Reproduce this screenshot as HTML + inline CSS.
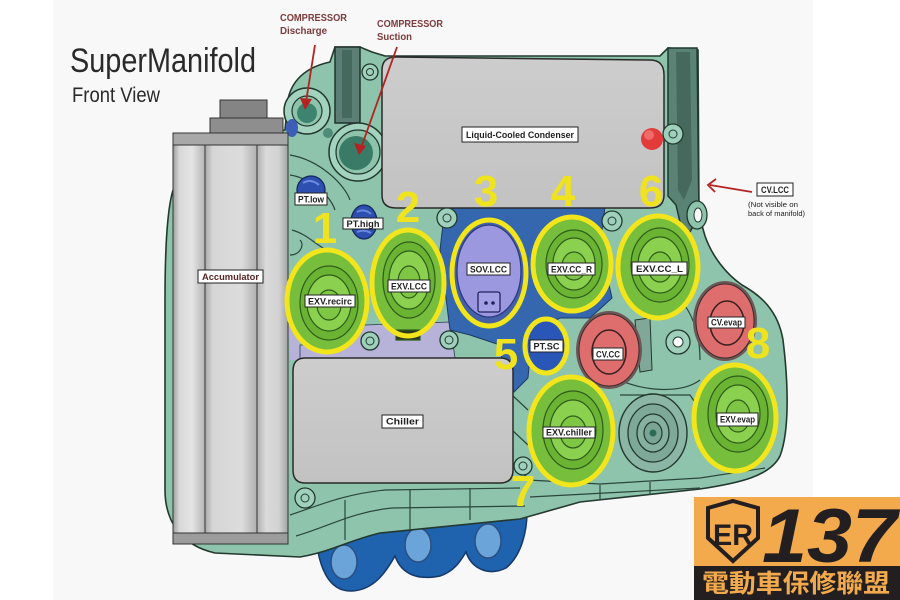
<!DOCTYPE html>
<html><head><meta charset="utf-8"><style>html,body{margin:0;padding:0;background:#fff;}svg{display:block}</style></head>
<body>
<svg width="900" height="600" viewBox="0 0 900 600" xmlns="http://www.w3.org/2000/svg" font-family="'Liberation Sans', Arial, sans-serif">
<defs>
<linearGradient id="cL" x1="0" x2="1"><stop offset="0" stop-color="#9c9c9c"/><stop offset="0.2" stop-color="#d8d8d8"/><stop offset="0.6" stop-color="#e4e4e4"/><stop offset="1" stop-color="#b4b4b4"/></linearGradient>
<linearGradient id="cM" x1="0" x2="1"><stop offset="0" stop-color="#a8a8a8"/><stop offset="0.15" stop-color="#d6d6d6"/><stop offset="0.7" stop-color="#dcdcdc"/><stop offset="1" stop-color="#b0b0b0"/></linearGradient>
<linearGradient id="cR" x1="0" x2="1"><stop offset="0" stop-color="#b0b0b0"/><stop offset="0.3" stop-color="#dadada"/><stop offset="0.7" stop-color="#d2d2d2"/><stop offset="1" stop-color="#a4a4a4"/></linearGradient>
<linearGradient id="gp" x1="0" y1="0" x2="0" y2="1"><stop offset="0" stop-color="#cdcdcd"/><stop offset="1" stop-color="#c2c2c2"/></linearGradient>
</defs>
<rect width="900" height="600" fill="#fff"/>
<rect x="53" y="0" width="760" height="600" fill="#f8f8f8"/>

<!-- blue lobes bottom -->
<path d="M315,520 C316,570 330,592 352,591 C374,590 386,572 395,556 C402,576 420,580 440,576 C455,571 461,560 466,552 C472,570 490,576 506,568 C522,555 527,530 527,512 Z" fill="#1f62ad" stroke="#16386a" stroke-width="1.5"/>
<ellipse cx="344" cy="562" rx="13" ry="17" fill="#6aa4d9" stroke="#2b4f80" stroke-width="1.5"/>
<ellipse cx="418" cy="545" rx="13" ry="17" fill="#6aa4d9" stroke="#2b4f80" stroke-width="1.5"/>
<ellipse cx="488" cy="541" rx="13" ry="17" fill="#6aa4d9" stroke="#2b4f80" stroke-width="1.5"/>

<!-- main body -->
<path d="M175,185 C168,200 165,240 165,300 L165,490 C165,520 180,545 215,553 L300,557 C330,552 350,540 380,533 L520,519 L580,502 L700,489 C740,483 770,476 780,456 C790,430 788,380 783,340 C778,310 760,295 742,285 C726,274 712,256 705,236 L699,215 L698,50 L668,48 L660,56 L385,56 L372,52 L360,47 L335,47 L330,62 C302,68 287,85 287,110 L285,130 L180,135 Z" fill="#8ec4ab" stroke="#23392f" stroke-width="1.6"/>

<!-- body detail lines -->
<g fill="none" stroke="#2b463c" stroke-width="1.2">
<path d="M290,515 C320,505 345,494 385,490 L520,488"/>
<path d="M296,536 C330,526 352,512 392,508 L525,506"/>
<path d="M528,480 L600,484 L700,478 L765,468"/>
<path d="M530,497 L700,488"/>
<path d="M292,230 C310,235 320,250 330,250"/>
<path d="M290,155 C320,160 345,185 350,200"/>
<path d="M290,175 C310,178 330,195 335,210"/>
<path d="M290,255 C300,255 305,245 300,240"/>
<path d="M620,380 C640,390 680,395 700,380"/>
<path d="M620,395 L690,395 L700,410"/>
<path d="M512,395 L528,410 M512,430 L528,445 M513,465 L530,480"/>
<path d="M680,300 C690,310 700,330 700,360"/>
<path d="M345,500 L345,540 M410,490 L410,530 M470,488 L470,520"/>
<path d="M600,485 L600,500 M650,482 L650,495"/>
</g>

<!-- lavender region -->
<path d="M287,305 L300,300 L300,360 L290,360 Z" fill="#b6b2d8"/>
<path d="M365,325 L450,322 L455,358 L300,360 L300,345 L345,345 Z" fill="#b6b2d8" stroke="#2b3a50" stroke-width="0.8"/>

<!-- blue region around SOV -->
<path d="M445,207 L605,207 L600,245 L612,298 L590,318 L560,318 L532,332 L528,378 L514,392 L505,388 L500,345 L470,335 L450,330 L440,250 Z" fill="#3467ad" stroke="#1e3a66" stroke-width="1"/>

<!-- top dark column & compressor ports -->
<path d="M335,47 L360,47 L360,123 L335,123 Z" fill="#5b7f74" stroke="#1f342d" stroke-width="1.5"/>
<path d="M342,50 L352,50 L352,118 L342,118 Z" fill="#46695e"/>
<circle cx="307" cy="111" r="23" fill="#a3d3bf" stroke="#22382f" stroke-width="1.5"/>
<circle cx="307" cy="111" r="15" fill="#8dc3ab" stroke="#22382f" stroke-width="1.2"/>
<circle cx="307" cy="113" r="10" fill="#3d8470"/>
<circle cx="358" cy="152" r="29" fill="#a3d3bf" stroke="#22382f" stroke-width="1.5"/>
<circle cx="358" cy="152" r="22" fill="#8dc3ab" stroke="#22382f" stroke-width="1.2"/>
<circle cx="356" cy="153" r="17" fill="#3a7b68"/>
<circle cx="328" cy="133" r="5" fill="#4f8b78"/>
<ellipse cx="292" cy="128" rx="6" ry="9" fill="#3c5fb5"/>

<!-- condenser -->
<path d="M382,70 Q382,57 396,57 L650,60 Q664,60 664,75 L664,195 Q664,208 650,208 L396,208 Q382,208 382,195 Z" fill="url(#gp)" stroke="#2a2a2a" stroke-width="1.5"/>
<circle cx="652" cy="139" r="11" fill="#e33a3a"/>
<circle cx="649" cy="135" r="5" fill="#f06a6a"/>

<!-- right dark column -->
<path d="M668,48 L697,48 L699,215 L690,232 L680,222 L676,205 L668,196 Z" fill="#5a8275" stroke="#1f3a32" stroke-width="1.5"/>
<path d="M676,52 L690,52 L692,180 L684,200 L678,190 Z" fill="#46695e"/>
<circle cx="673" cy="134" r="10" fill="#9fd0bb" stroke="#22382f" stroke-width="1.3"/>
<circle cx="673" cy="134" r="4" fill="none" stroke="#22382f"/>
<ellipse cx="697" cy="215" rx="10" ry="14" fill="#8ec4ab" stroke="#22382f" stroke-width="1.3"/>
<ellipse cx="698" cy="215" rx="4" ry="7" fill="#f8f8f8" stroke="#22382f"/>

<!-- accumulator -->
<rect x="220" y="100" width="47" height="18" fill="#848484" stroke="#333" stroke-width="1"/>
<rect x="210" y="118" width="73" height="17" fill="#8e8e8e" stroke="#333" stroke-width="1"/>
<rect x="173" y="133" width="115" height="12" fill="#a8a8a8" stroke="#333" stroke-width="1"/>
<rect x="173" y="145" width="32" height="390" fill="url(#cL)" stroke="#333" stroke-width="1"/>
<rect x="205" y="145" width="52" height="390" fill="url(#cM)" stroke="#333" stroke-width="1"/>
<rect x="257" y="145" width="31" height="390" fill="url(#cR)" stroke="#333" stroke-width="1"/>
<rect x="173" y="533" width="115" height="11" fill="#9c9c9c" stroke="#333" stroke-width="1"/>

<!-- chiller -->
<path d="M305,358 L500,358 Q513,358 513,371 L513,470 Q513,483 500,483 L305,483 Q293,483 293,470 L293,371 Q293,358 305,358 Z" fill="url(#gp)" stroke="#2a2a2a" stroke-width="1.5"/>

<!-- bolts -->
<g fill="#9fd0bb" stroke="#22382f" stroke-width="1.3">
<circle cx="370" cy="72" r="8"/><circle cx="447" cy="218" r="10"/><circle cx="612" cy="221" r="10"/>
<circle cx="370" cy="341" r="9"/><circle cx="449" cy="340" r="9"/><circle cx="305" cy="498" r="10"/>
<circle cx="523" cy="466" r="9"/><circle cx="458" cy="342" r="0"/>
</g>
<g fill="none" stroke="#22382f" stroke-width="1">
<circle cx="370" cy="72" r="3.5"/><circle cx="447" cy="218" r="4"/><circle cx="612" cy="221" r="4"/>
<circle cx="370" cy="341" r="4"/><circle cx="449" cy="340" r="4"/><circle cx="305" cy="498" r="4"/><circle cx="523" cy="466" r="4"/>
</g>
<circle cx="678" cy="342" r="12" fill="#9fd0bb" stroke="#22382f" stroke-width="1.3"/>
<circle cx="678" cy="342" r="5" fill="#fff" stroke="#22382f"/>

<!-- center ring -->
<ellipse cx="653" cy="433" rx="34" ry="39" fill="#8bb5a5" stroke="#22382f" stroke-width="1.4"/>
<ellipse cx="653" cy="433" rx="25" ry="29" fill="#7ea898" stroke="#22382f" stroke-width="1.3"/>
<ellipse cx="653" cy="433" rx="16" ry="19" fill="#86b1a1" stroke="#22382f" stroke-width="1.3"/>
<ellipse cx="653" cy="433" rx="9" ry="11" fill="#7aa595" stroke="#22382f" stroke-width="1.2"/>
<circle cx="653" cy="433" r="3.5" fill="#2b6b58"/>
<path d="M635,320 L650,318 L652,370 L640,372 Z" fill="#7fa898" stroke="#22382f"/>

<!-- red valves -->
<ellipse cx="609" cy="350" rx="33" ry="39" fill="#6d5656"/>
<ellipse cx="609" cy="350" rx="30" ry="36" fill="#de6e6e" stroke="#3a2a2a" stroke-width="1"/>
<ellipse cx="609" cy="352" rx="17" ry="22" fill="none" stroke="#3a2020" stroke-width="1.6"/>
<ellipse cx="725" cy="321" rx="32" ry="40" fill="#6d5656"/>
<ellipse cx="725" cy="321" rx="29" ry="37" fill="#de6e6e" stroke="#3a2a2a" stroke-width="1"/>
<ellipse cx="727" cy="323" rx="17" ry="22" fill="none" stroke="#3a2020" stroke-width="1.6"/>

<!-- PT sensors -->
<circle cx="311" cy="190" r="14" fill="#2c4fb0" stroke="#17265a" stroke-width="1.3"/>
<path d="M303,183 Q311,178 319,185 M305,198 Q311,194 318,199" stroke="#6a88dd" stroke-width="2" fill="none"/>
<ellipse cx="364" cy="222" rx="13" ry="17" fill="#2c4fb0" stroke="#17265a" stroke-width="1.3"/>
<path d="M357,212 Q364,208 371,214 M357,232 Q364,229 371,233" stroke="#6a88dd" stroke-width="2" fill="none"/>
<ellipse cx="546" cy="346" rx="20" ry="26" fill="#2a56b8" stroke="#17265a" stroke-width="1.3"/>

<!-- green valves -->
<g stroke="#2f5c1b" stroke-width="1.2">
<ellipse cx="327" cy="301" rx="40" ry="51" fill="#77be3c"/>
<ellipse cx="329" cy="303" rx="29" ry="37" fill="#6ab333"/>
<ellipse cx="329" cy="303" rx="22" ry="28" fill="#8bd04e"/>
<ellipse cx="329" cy="305" rx="12" ry="15" fill="#7fc644"/>

<ellipse cx="408" cy="283" rx="36" ry="53" fill="#77be3c"/>
<ellipse cx="409" cy="280" rx="26" ry="38" fill="#6ab333"/>
<ellipse cx="409" cy="280" rx="20" ry="29" fill="#8bd04e"/>
<ellipse cx="409" cy="282" rx="11" ry="16" fill="#7fc644"/>
<rect x="396" y="330" width="24" height="10" fill="#2b3a20"/>

<ellipse cx="572" cy="264" rx="39" ry="47" fill="#77be3c"/>
<ellipse cx="574" cy="264" rx="28" ry="34" fill="#6ab333"/>
<ellipse cx="574" cy="264" rx="21" ry="26" fill="#8bd04e"/>
<ellipse cx="574" cy="266" rx="12" ry="14" fill="#7fc644"/>

<ellipse cx="658" cy="267" rx="40" ry="51" fill="#77be3c"/>
<ellipse cx="660" cy="265" rx="29" ry="37" fill="#6ab333"/>
<ellipse cx="660" cy="265" rx="22" ry="28" fill="#8bd04e"/>
<ellipse cx="660" cy="267" rx="12" ry="15" fill="#7fc644"/>

<ellipse cx="571" cy="431" rx="42" ry="54" fill="#77be3c"/>
<ellipse cx="573" cy="430" rx="30" ry="39" fill="#6ab333"/>
<ellipse cx="573" cy="430" rx="23" ry="30" fill="#8bd04e"/>
<ellipse cx="573" cy="432" rx="13" ry="16" fill="#7fc644"/>

<ellipse cx="735" cy="418" rx="41" ry="53" fill="#77be3c"/>
<ellipse cx="738" cy="414" rx="30" ry="38" fill="#6ab333"/>
<ellipse cx="738" cy="414" rx="22" ry="29" fill="#8bd04e"/>
<ellipse cx="738" cy="416" rx="12" ry="16" fill="#7fc644"/>
</g>

<!-- SOV -->
<ellipse cx="489" cy="273" rx="37" ry="53" fill="#4360a8" stroke="#1d2a60" stroke-width="1.2"/>
<ellipse cx="489" cy="271" rx="32" ry="46" fill="#9b98e0" stroke="#2a3a80" stroke-width="1.3"/>
<rect x="478" y="292" width="22" height="20" rx="2" fill="#a3a0e6" stroke="#22225a" stroke-width="1.3"/>
<circle cx="486" cy="303" r="1.8" fill="#22225a"/><circle cx="493" cy="303" r="1.8" fill="#22225a"/>

<!-- yellow outlines -->
<g fill="none" stroke="#f2e51c" stroke-width="5">
<ellipse cx="327" cy="301" rx="40" ry="51"/>
<ellipse cx="408" cy="283" rx="36" ry="53"/>
<ellipse cx="489" cy="273" rx="37" ry="53"/>
<ellipse cx="572" cy="264" rx="39" ry="47"/>
<ellipse cx="658" cy="267" rx="40" ry="51"/>
<ellipse cx="546" cy="346" rx="21" ry="27"/>
<ellipse cx="571" cy="431" rx="42" ry="54"/>
<ellipse cx="735" cy="418" rx="41" ry="53"/>
</g>

<!-- labels -->
<g fill="#fff" stroke="#222" stroke-width="1">
<rect x="295" y="193" width="32" height="12"/>
<rect x="343" y="218" width="40" height="11"/>
<rect x="305" y="295" width="50" height="12"/>
<rect x="388" y="280" width="42" height="12"/>
<rect x="467" y="263" width="43" height="12"/>
<rect x="548" y="263" width="47" height="12"/>
<rect x="632" y="262" width="55" height="13"/>
<rect x="530" y="340" width="33" height="12"/>
<rect x="593" y="348" width="30" height="12"/>
<rect x="708" y="317" width="37" height="11"/>
<rect x="543" y="427" width="52" height="11"/>
<rect x="717" y="413" width="41" height="13"/>
<rect x="382" y="415" width="41" height="13"/>
<rect x="198" y="270" width="65" height="13"/>
<rect x="462" y="127" width="116" height="15"/>
<rect x="757" y="183" width="36" height="13"/>
</g>
<g fill="#222" font-size="9.5" font-weight="bold" text-anchor="middle" lengthAdjust="spacingAndGlyphs">
<text x="311" y="202.5" textLength="26" lengthAdjust="spacingAndGlyphs">PT.low</text>
<text x="363" y="227" textLength="33" lengthAdjust="spacingAndGlyphs">PT.high</text>
<text x="330" y="304.5" textLength="44" lengthAdjust="spacingAndGlyphs">EXV.recirc</text>
<text x="409" y="289.5" textLength="36" lengthAdjust="spacingAndGlyphs">EXV.LCC</text>
<text x="488.5" y="272.5" textLength="37" lengthAdjust="spacingAndGlyphs">SOV.LCC</text>
<text x="571.5" y="272.5" textLength="41" lengthAdjust="spacingAndGlyphs">EXV.CC_R</text>
<text x="659.5" y="272" textLength="47" lengthAdjust="spacingAndGlyphs">EXV.CC_L</text>
<text x="546.5" y="349.5" textLength="26" lengthAdjust="spacingAndGlyphs">PT.SC</text>
<text x="608" y="357.5" textLength="24" lengthAdjust="spacingAndGlyphs">CV.CC</text>
<text x="726.5" y="325.5" textLength="31" lengthAdjust="spacingAndGlyphs">CV.evap</text>
<text x="569" y="435.5" textLength="46" lengthAdjust="spacingAndGlyphs">EXV.chiller</text>
<text x="737.5" y="422.5" textLength="35" lengthAdjust="spacingAndGlyphs">EXV.evap</text>
<text x="402.5" y="424.5" textLength="33" lengthAdjust="spacingAndGlyphs">Chiller</text>
<text x="230.5" y="280" textLength="57" lengthAdjust="spacingAndGlyphs" fill="#5a2424">Accumulator</text>
<text x="520" y="138" textLength="108" lengthAdjust="spacingAndGlyphs">Liquid-Cooled Condenser</text>
<text x="775" y="193" textLength="28" lengthAdjust="spacingAndGlyphs">CV.LCC</text>
</g>

<!-- numbers -->
<g fill="#efe21e" font-size="44" font-weight="bold" text-anchor="middle">
<text x="325" y="243">1</text>
<text x="408" y="222">2</text>
<text x="486" y="206">3</text>
<text x="563" y="206">4</text>
<text x="651" y="206">6</text>
<text x="506" y="369">5</text>
<text x="523" y="506">7</text>
<text x="758" y="358">8</text>
</g>

<!-- titles -->
<text x="70" y="72" font-size="34" fill="#2a2a2a" textLength="186" lengthAdjust="spacingAndGlyphs">SuperManifold</text>
<text x="72" y="102" font-size="21" fill="#2a2a2a" textLength="88" lengthAdjust="spacingAndGlyphs">Front View</text>
<g fill="#7b3b3b" font-weight="bold">
<text x="280" y="21" font-size="10" textLength="67" lengthAdjust="spacingAndGlyphs">COMPRESSOR</text>
<text x="280" y="34" font-size="10" textLength="47" lengthAdjust="spacingAndGlyphs">Discharge</text>
<text x="377" y="27" font-size="10" textLength="66" lengthAdjust="spacingAndGlyphs">COMPRESSOR</text>
<text x="377" y="40" font-size="10" textLength="35" lengthAdjust="spacingAndGlyphs">Suction</text>
</g>
<g stroke="#b42222" stroke-width="1.8" fill="none">
<line x1="315" y1="45" x2="306" y2="102"/>
<line x1="397" y1="47" x2="361" y2="148"/>
<line x1="752" y1="192" x2="710" y2="185"/>
<path d="M716,179 L708,185 L715,192"/>
</g>
<path d="M300,98 L305,110 L312,99 Z" fill="#b42222"/>
<path d="M354,143 L359,155 L366,146 Z" fill="#b42222"/>
<g fill="#222" font-size="7" text-anchor="start">
<text x="748" y="207" textLength="50" lengthAdjust="spacingAndGlyphs">(Not visible on</text>
<text x="748" y="216" textLength="57" lengthAdjust="spacingAndGlyphs">back of manifold)</text>
</g>

<!-- logo -->
<rect x="694" y="497" width="206" height="103" fill="#f3aa4c"/>
<rect x="694" y="566" width="206" height="34" fill="#231f20"/>
<path d="M733,501 L758,508 L758,538 L733,561 L708,538 L708,508 Z" fill="none" stroke="#231f20" stroke-width="4"/>
<text x="733" y="545" font-size="30" font-weight="bold" fill="#231f20" text-anchor="middle" textLength="40" lengthAdjust="spacingAndGlyphs">ER</text>
<text x="762" y="562" font-size="76" font-weight="bold" font-style="italic" fill="#231f20" textLength="135" lengthAdjust="spacingAndGlyphs">137</text>
<text x="702" y="592" font-size="25" font-weight="bold" fill="#f3aa4c" font-family="'Liberation Sans','Noto Sans CJK TC',sans-serif" textLength="188" lengthAdjust="spacingAndGlyphs">電動車保修聯盟</text>
</svg>
</body></html>
